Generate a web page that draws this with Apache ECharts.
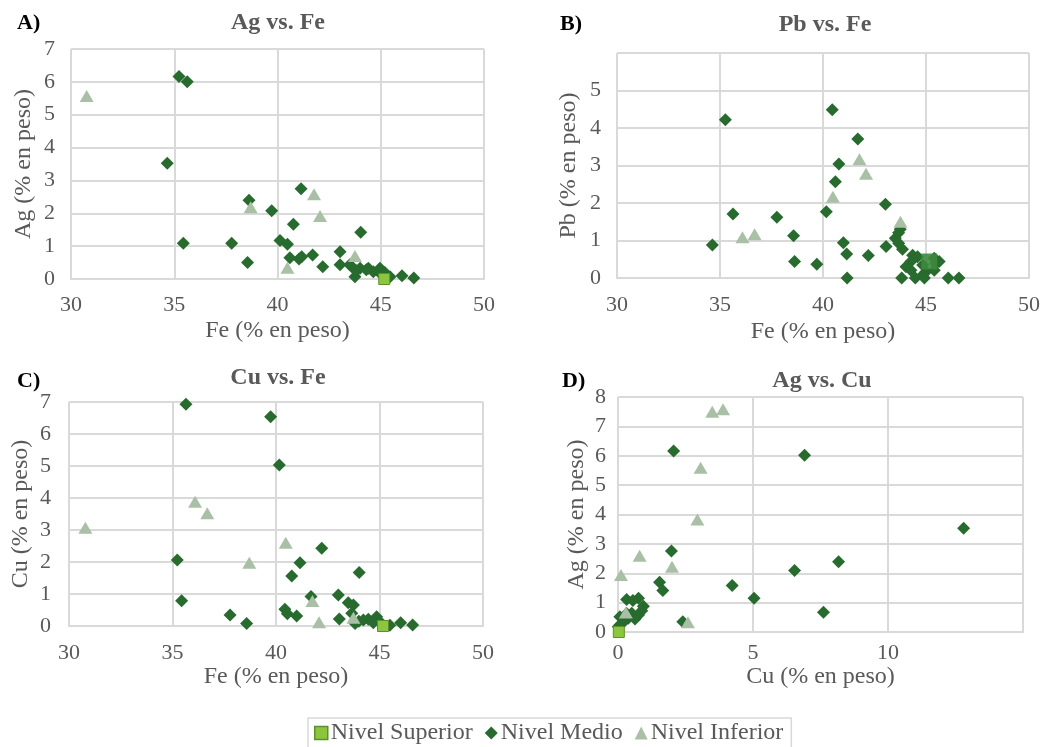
<!DOCTYPE html>
<html>
<head>
<meta charset="utf-8">
<script src="https://cdn.jsdelivr.net/npm/echarts@6/dist/echarts.min.js"></script>
<style>
    html, body { margin: 0; padding: 0; background: #fff; }
    #chart { width: 1043px; height: 747px; }
</style>
</head>
<body>
<div id="chart"></div>
<script>
// A) Ag vs. Fe  -> [Fe, Ag]
const agFeSuperior = [[45.17, 0]];
const agFeMedio = [
    [35.23, 6.16], [35.63, 6.0], [34.66, 3.52], [35.44, 1.09], [37.78, 1.09], [38.55, 0.5],
    [38.62, 2.4], [39.72, 2.08], [41.14, 2.75], [40.77, 1.67], [44.03, 1.42], [40.12, 1.17],
    [40.48, 1.06], [40.6, 0.65], [41.04, 0.61], [41.17, 0.68], [41.7, 0.73], [42.19, 0.37],
    [43.03, 0.83], [43.03, 0.43], [43.5, 0.43], [43.75, 0.07], [44.0, 0.33], [44.4, 0.33],
    [44.64, 0.22], [44.96, 0.33], [45.05, 0.12], [45.45, 0.07], [46.03, 0.1], [46.6, 0.03],
    [43.83, 0.25], [43.6, 0.37], [44.3, 0.28], [45.2, 0.2]
];
const agFeInferior = [[30.76, 5.57], [38.7, 2.18], [41.77, 2.58], [42.06, 1.92], [40.48, 0.34], [43.75, 0.7]];

// B) Pb vs. Fe  -> [Fe, Pb]
const pbFeSuperior = [[45.16, 0.44]];
const pbFeMedio = [
    [34.63, 0.88], [35.26, 4.22], [35.63, 1.71], [37.76, 1.62], [38.57, 1.13], [38.62, 0.44],
    [39.7, 0.37], [40.16, 1.77], [40.45, 4.49], [40.6, 2.57], [40.77, 3.04], [40.99, 0.94],
    [41.15, 0.64], [41.17, 0], [41.69, 3.71], [42.2, 0.6], [43.03, 1.97], [43.06, 0.84],
    [43.67, 1.21], [43.51, 1.06], [43.67, 0.93], [43.86, 0.77], [44.35, 0.61], [44.27, 0.44],
    [44.59, 0.57], [44.03, 0.3], [44.27, 0.21], [44.84, 0.35], [45.48, 0.39], [45.0, 0.17],
    [45.4, 0.21], [44.84, 0.08], [43.82, 0], [44.48, 0], [44.92, 0], [46.08, 0], [46.6, 0],
    [45.4, 0.53], [45.64, 0.44], [43.75, 1.3]
];
const pbFeInferior = [[36.09, 1.09], [36.68, 1.17], [40.48, 2.17], [41.77, 3.17], [42.09, 2.78], [43.76, 1.5]];

// C) Cu vs. Fe  -> [Fe, Cu]
const cuFeSuperior = [[45.17, 0]];
const cuFeMedio = [
    [35.65, 6.93], [39.74, 6.54], [40.16, 5.03], [35.23, 2.06], [42.21, 2.43], [41.16, 1.98],
    [40.76, 1.56], [44.02, 1.67], [35.44, 0.79], [37.78, 0.34], [38.58, 0.08], [41.69, 0.92],
    [43.01, 0.97], [40.43, 0.52], [40.55, 0.38], [41.0, 0.31], [43.06, 0.22], [43.49, 0.73],
    [43.74, 0.66], [43.66, 0.4], [44.22, 0.19], [44.46, 0.21], [44.86, 0.29], [45.02, 0.13],
    [44.7, 0.1], [46.02, 0.1], [46.6, 0.03], [43.82, 0.08], [45.5, 0.02], [44.0, 0.15]
];
const cuFeInferior = [[30.79, 3.07], [36.09, 3.88], [36.68, 3.52], [38.71, 1.98], [40.47, 2.6], [41.76, 0.78], [42.08, 0.12], [43.74, 0.26]];

// D) Ag vs. Cu  -> [Cu, Ag]
const agCuSuperior = [[0.03, 0]];
const agCuMedio = [
    [2.06, 6.16], [6.91, 6.02], [12.8, 3.53], [1.98, 2.76], [8.17, 2.39], [6.54, 2.09],
    [1.54, 1.69], [1.66, 1.41], [4.23, 1.58], [5.04, 1.15], [7.61, 0.67], [2.4, 0.35],
    [0.32, 1.11], [0.76, 1.15], [0.55, 1.07], [0.94, 0.88], [0.88, 0.72], [0.76, 0.58],
    [0.07, 0.52], [0.51, 0.64], [0.38, 0.47], [0.2, 0.35], [0.07, 0.24], [0.01, 0.18],
    [0.63, 0.44], [0.26, 0.41], [0.32, 0.63], [0.15, 0.3]
];
const agCuInferior = [[3.49, 7.5], [3.89, 7.58], [3.06, 5.59], [2.94, 3.83], [0.8, 2.6], [2.0, 2.22], [0.11, 1.94], [0.29, 0.66], [2.59, 0.33]];

// axis ranges [min, max, interval]
const feRange = [30, 50, 5];
const agRangeA = [0, 7, 1];
const pbRange = [0, 6, 1];
const cuRangeC = [0, 7, 1];
const cuRangeD = [0, 15, 5];
const agRangeD = [0, 8, 1];

const titles = ['Ag vs. Fe', 'Pb vs. Fe', 'Cu vs. Fe', 'Ag vs. Cu'];
const letters = ['A)', 'B)', 'C)', 'D)'];
const levelNames = ['Nivel Superior', 'Nivel Medio', 'Nivel Inferior'];

const FONT = '"Liberation Serif", "Times New Roman", serif';
const TXT = '#595959';
const GRID_LINE = '#d9d9d9';

let chart = echarts.init(document.getElementById('chart'));

const grids = [
    { left: 71, top: 49, width: 413, height: 230 },
    { left: 617, top: 53, width: 413, height: 225 },
    { left: 69, top: 402, width: 414, height: 224 },
    { left: 618, top: 397, width: 405, height: 235 }
];

function makeAxis(idx, range, name, nameGap, labelMargin, isY, hideLast) {
    return {
        type: 'value',
        gridIndex: idx,
        min: range[0],
        max: range[1],
        interval: range[2],
        name: name,
        nameLocation: 'middle',
        nameGap: nameGap,
        nameTextStyle: { fontFamily: FONT, fontSize: 24, color: TXT },
        axisLine: { show: !isY, lineStyle: { color: GRID_LINE, width: 2 } },
        axisTick: { show: false },
        axisLabel: {
            fontFamily: FONT, fontSize: 22, color: TXT, margin: labelMargin,
            formatter: function (val) {
                if (hideLast && val === range[1]) return '';
                return val;
            }
        },
        splitLine: { show: true, lineStyle: { color: GRID_LINE, width: 2 } }
    };
}

const xAxes = [
    makeAxis(0, feRange, 'Fe (% en peso)', 40, 15, false, false),
    makeAxis(1, feRange, 'Fe (% en peso)', 42, 16, false, false),
    makeAxis(2, feRange, 'Fe (% en peso)', 35, 16, false, false),
    makeAxis(3, cuRangeD, 'Cu (% en peso)', 33, 10, false, true)
];
const yAxes = [
    makeAxis(0, agRangeA, 'Ag (% en peso)', 35, 16, true, false),
    makeAxis(1, pbRange, 'Pb (% en peso)', 36, 16, true, true),
    makeAxis(2, cuRangeC, 'Cu (% en peso)', 36, 18, true, false),
    makeAxis(3, agRangeD, 'Ag (% en peso)', 29, 12, true, false)
];

const panels = [
    [agFeSuperior, agFeMedio, agFeInferior],
    [pbFeSuperior, pbFeMedio, pbFeInferior],
    [cuFeSuperior, cuFeMedio, cuFeInferior],
    [agCuSuperior, agCuMedio, agCuInferior]
];

let series = [];
panels.forEach((p, i) => {
    series.push({
        name: levelNames[1], type: 'scatter', xAxisIndex: i, yAxisIndex: i,
        symbol: 'diamond', symbolSize: 13, z: 2,
        itemStyle: { color: '#276b2e', opacity: 1 },
        data: p[1]
    });
    series.push({
        name: levelNames[2], type: 'scatter', xAxisIndex: i, yAxisIndex: i,
        symbol: 'triangle', symbolSize: [14, 12], z: 3,
        itemStyle: { color: '#a9bfa6', opacity: 1 },
        data: p[2]
    });
    series.push({
        name: levelNames[0], type: 'scatter', xAxisIndex: i, yAxisIndex: i,
        symbol: 'rect', symbolSize: i === 1 ? 16 : 11, z: 4,
        itemStyle: i === 1
            ? { color: '#3d8a3d', opacity: 0.9 }
            : { color: '#8cc63f', borderColor: '#5e8f2a', borderWidth: 1, opacity: 1 },
        data: p[0]
    });
});

const titleCenters = [[278, 11], [825, 13], [278, 366], [822, 369]];
const letterPos = [[17, 12], [560, 13], [17, 370], [562, 370]];

let titleList = titles.map((t, i) => ({
    text: t,
    left: titleCenters[i][0],
    top: titleCenters[i][1],
    textAlign: 'center',
    padding: 0,
    textStyle: { fontFamily: FONT, fontSize: 24, fontWeight: 'bold', color: TXT }
}));
letters.forEach((l, i) => {
    titleList.push({
        text: l,
        left: letterPos[i][0],
        top: letterPos[i][1],
        padding: 0,
        textStyle: { fontFamily: FONT, fontSize: 22, fontWeight: 'bold', color: '#000' }
    });
});

let option = {
    backgroundColor: '#ffffff',
    animation: false,
    title: titleList,
    grid: grids,
    xAxis: xAxes,
    yAxis: yAxes,
    legend: {
        data: [
            { name: levelNames[0], icon: 'rect', itemStyle: { color: '#8cc63f', borderColor: '#5e8f2a', borderWidth: 1.5 } },
            { name: levelNames[1], icon: 'diamond', itemStyle: { color: '#276b2e' } },
            { name: levelNames[2], icon: 'triangle', itemStyle: { color: '#a9bfa6' } }
        ],
        left: 308,
        top: 718,
        padding: [3, 8, 10, 6],
        itemGap: 12,
        itemWidth: 13,
        itemHeight: 13,
        borderColor: GRID_LINE,
        borderWidth: 1.5,
        textStyle: { fontFamily: FONT, fontSize: 24, color: TXT, padding: [0, 0, 0, -2] }
    },
    series: series
};

chart.setOption(option);
window.addEventListener("resize", () => {
    chart.resize();
});
</script>
</body>
</html>
